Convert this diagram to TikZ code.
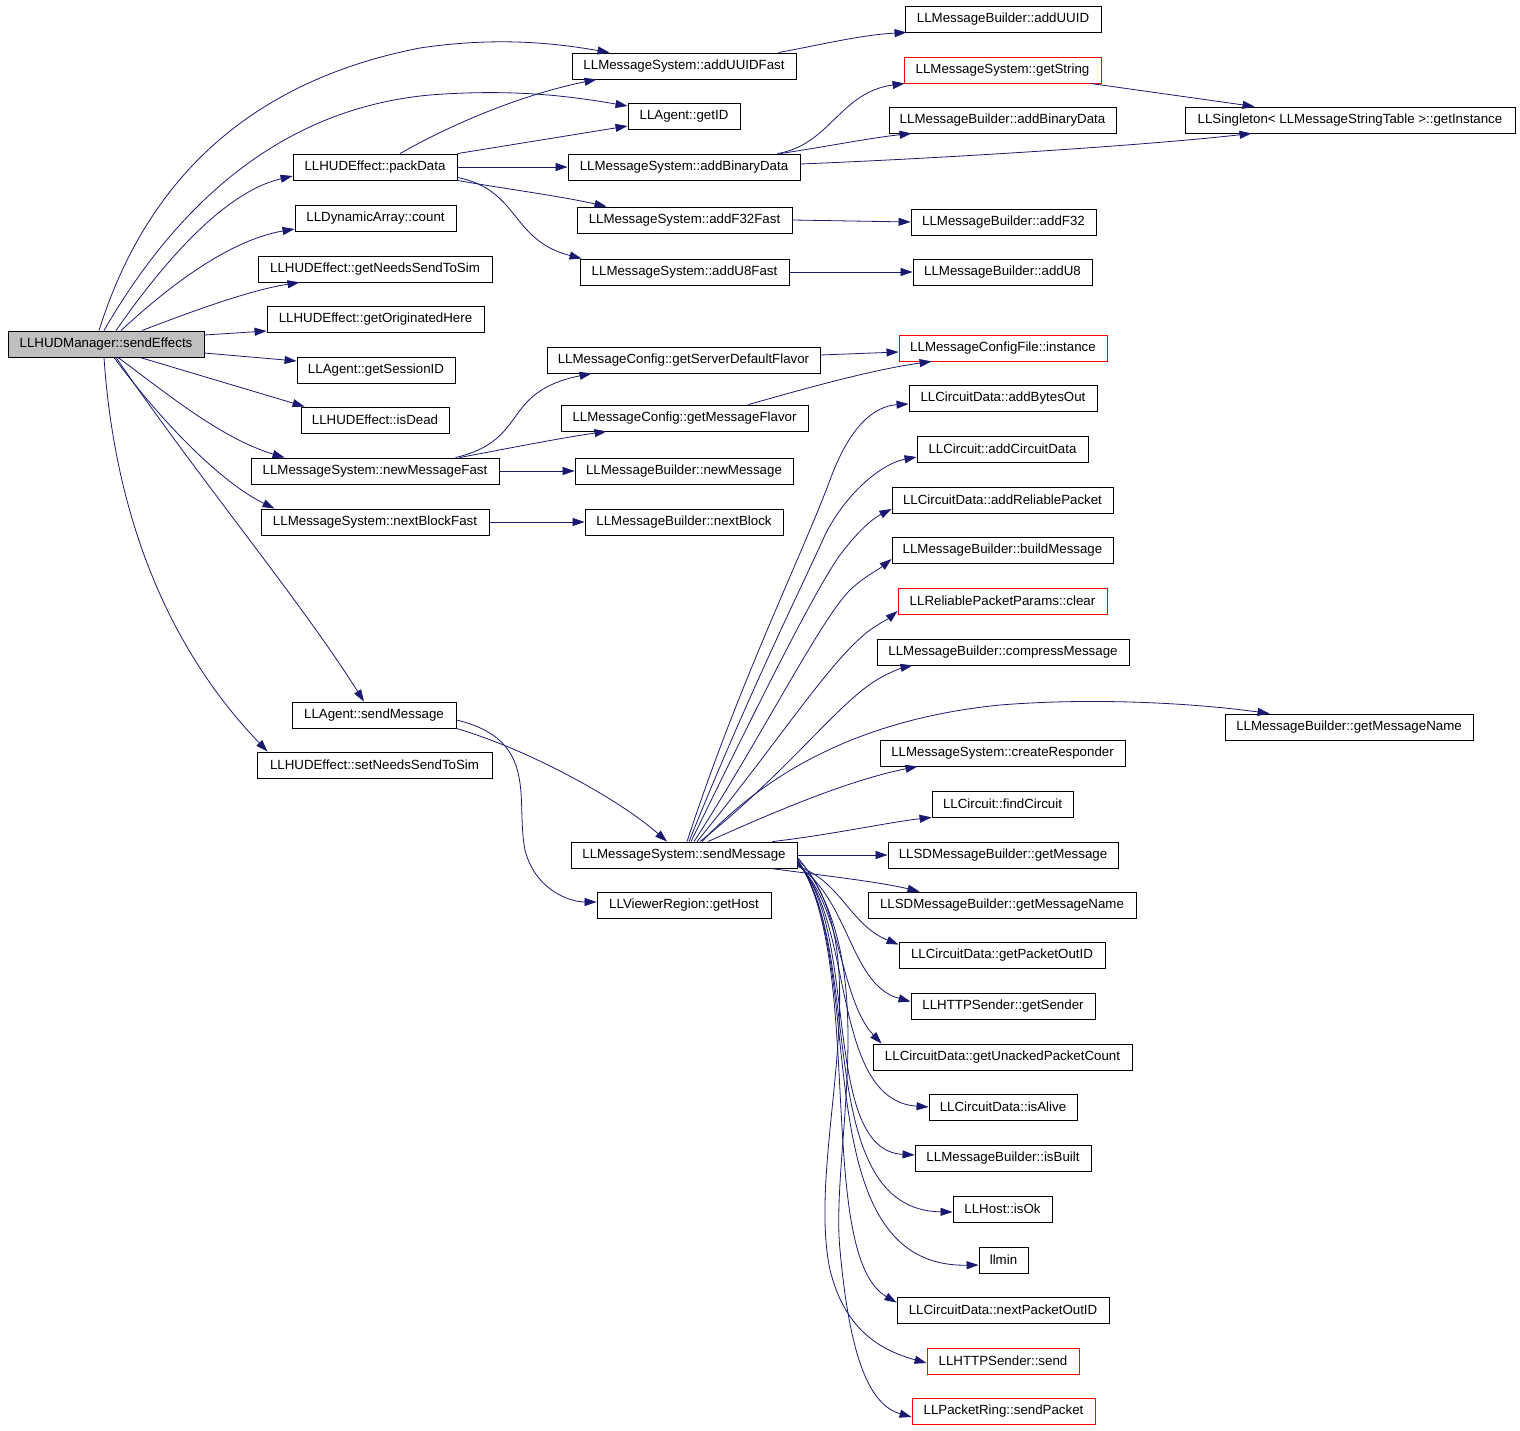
\documentclass[tikz,border=0pt]{standalone}
\usepackage{fontspec}
\setmainfont{Liberation Sans}
\usetikzlibrary{arrows.meta}
\definecolor{edgeblue}{HTML}{191970}
\definecolor{graybox}{HTML}{BFBFBF}
\tikzset{
  box/.style={rectangle,line width=0.9pt,inner sep=0pt,font=\fontsize{13.3}{15}\selectfont,fill=white},
  edge/.style={draw=edgeblue,line width=0.8pt,-{Triangle[length=12pt,width=8pt]}},
}
\newcommand{\mybox}[7]{\node[box,draw=#7,minimum width={(#5)-(#3)},minimum height={(#6)-(#4)}] (#1) at ({((#3)+(#5))/2},{((#4)+(#6))/2}) {#2};}
\begin{document}
\begin{tikzpicture}[x=1pt,y=-1pt]
\useasboundingbox[fill=white] (0,0) rectangle (1520,1431);
% nodes
\node[box,draw=black,fill=graybox,minimum width=196,minimum height=26] (se) at (106,344) {LLHUDManager::sendEffects};
\mybox{aduf}{LLMessageSystem::addUUIDFast}{572}{53}{796}{79}{black}
\mybox{adu}{LLMessageBuilder::addUUID}{905}{6}{1101}{32}{black}
\mybox{gid}{LLAgent::getID}{628}{103}{740}{129}{black}
\mybox{pd}{LLHUDEffect::packData}{293}{154}{457}{180}{black}
\mybox{gs}{LLMessageSystem::getString}{904}{57}{1101}{83}{red}
\mybox{mbabd}{LLMessageBuilder::addBinaryData}{889}{107}{1116}{133}{black}
\mybox{gi}{LLSingleton< LLMessageStringTable >::getInstance}{1185}{107}{1515}{133}{black}
\mybox{msabd}{LLMessageSystem::addBinaryData}{568}{154}{800}{180}{black}
\mybox{cnt}{LLDynamicArray::count}{295}{205}{456}{231}{black}
\mybox{af32}{LLMessageSystem::addF32Fast}{577}{207}{792}{233}{black}
\mybox{af}{LLMessageBuilder::addF32}{911}{209}{1096}{235}{black}
\mybox{gns}{LLHUDEffect::getNeedsSendToSim}{258}{256}{492}{282}{black}
\mybox{au8}{LLMessageSystem::addU8Fast}{580}{259}{789}{285}{black}
\mybox{au}{LLMessageBuilder::addU8}{913}{259}{1092}{285}{black}
\mybox{goh}{LLHUDEffect::getOriginatedHere}{267}{306}{484}{332}{black}
\mybox{gsdf}{LLMessageConfig::getServerDefaultFlavor}{547}{347}{820}{373}{black}
\mybox{mci}{LLMessageConfigFile::instance}{899}{335}{1107}{361}{red}
\mybox{gsi}{LLAgent::getSessionID}{297}{357}{455}{383}{black}
\mybox{gmf}{LLMessageConfig::getMessageFlavor}{561}{405}{808}{431}{black}
\mybox{abo}{LLCircuitData::addBytesOut}{909}{385}{1097}{411}{black}
\mybox{isd}{LLHUDEffect::isDead}{301}{407}{449}{433}{black}
\mybox{nmf}{LLMessageSystem::newMessageFast}{251}{458}{499}{484}{black}
\mybox{nm}{LLMessageBuilder::newMessage}{575}{458}{793}{484}{black}
\mybox{acd}{LLCircuit::addCircuitData}{917}{436}{1088}{462}{black}
\mybox{nbf}{LLMessageSystem::nextBlockFast}{261}{509}{489}{535}{black}
\mybox{nb}{LLMessageBuilder::nextBlock}{585}{509}{783}{535}{black}
\mybox{arp}{LLCircuitData::addReliablePacket}{892}{487}{1113}{513}{black}
\mybox{bm}{LLMessageBuilder::buildMessage}{892}{537}{1113}{563}{black}
\mybox{rpc}{LLReliablePacketParams::clear}{898}{588}{1107}{614}{red}
\mybox{cm}{LLMessageBuilder::compressMessage}{877}{639}{1129}{665}{black}
\mybox{asm}{LLAgent::sendMessage}{292}{702}{456}{728}{black}
\mybox{mbgmn}{LLMessageBuilder::getMessageName}{1225}{714}{1473}{740}{black}
\mybox{cr}{LLMessageSystem::createResponder}{880}{740}{1125}{766}{black}
\mybox{sns}{LLHUDEffect::setNeedsSendToSim}{257}{752}{492}{778}{black}
\mybox{fc}{LLCircuit::findCircuit}{932}{791}{1073}{817}{black}
\mybox{mssm}{LLMessageSystem::sendMessage}{571}{842}{797}{868}{black}
\mybox{sdgm}{LLSDMessageBuilder::getMessage}{888}{842}{1118}{868}{black}
\mybox{sdgmn}{LLSDMessageBuilder::getMessageName}{868}{892}{1136}{918}{black}
\mybox{gh}{LLViewerRegion::getHost}{597}{892}{771}{918}{black}
\mybox{gpo}{LLCircuitData::getPacketOutID}{899}{942}{1105}{968}{black}
\mybox{gsn}{LLHTTPSender::getSender}{911}{993}{1095}{1019}{black}
\mybox{gupc}{LLCircuitData::getUnackedPacketCount}{873}{1044}{1132}{1070}{black}
\mybox{ia}{LLCircuitData::isAlive}{929}{1094}{1077}{1120}{black}
\mybox{ib}{LLMessageBuilder::isBuilt}{915}{1145}{1091}{1171}{black}
\mybox{iok}{LLHost::isOk}{953}{1196}{1052}{1222}{black}
\mybox{llm}{llmin}{979}{1247}{1028}{1273}{black}
\mybox{npo}{LLCircuitData::nextPacketOutID}{897}{1297}{1109}{1323}{black}
\mybox{hs}{LLHTTPSender::send}{927}{1348}{1079}{1374}{red}
\mybox{psp}{LLPacketRing::sendPacket}{912}{1398}{1095}{1424}{red}

% ---------- edges from sendEffects ----------
\draw[edge] ([xshift=-7]se.north) .. controls (140,200) and (230,85) .. (420,48) .. controls (500,36) and (560,44) .. ([xshift=38]aduf.north west);
\draw[edge] ([xshift=-2]se.north) .. controls (165,225) and (265,110) .. (430,95) .. controls (520,88) and (580,98) .. ([yshift=10]gid.west);
\draw[edge] ([xshift=10]se.north) .. controls (165,260) and (225,192) .. ([yshift=-9]pd.west);
\draw[edge] ([xshift=15]se.north) .. controls (170,285) and (230,240) .. ([yshift=-11]cnt.west);
\draw[edge] ([xshift=36]se.north) .. controls (190,312) and (250,290) .. ([xshift=42]gns.south west);
\draw[edge] ([yshift=9]se.east) -- ([yshift=-12]goh.west);
\draw[edge] ([yshift=-9]se.east) -- ([yshift=9]gsi.west);
\draw[edge] ([xshift=34]se.south) -- ([xshift=4]isd.north west);
\draw[edge] ([xshift=12]se.south) .. controls (165,392) and (220,438) .. ([xshift=34]nmf.north west);
\draw[edge] ([xshift=8]se.south) .. controls (160,420) and (220,482) .. ([xshift=14]nbf.north west);
\draw[edge] ([xshift=10]se.south) .. controls (200,480) and (300,600) .. ([xshift=-10]asm.north);
\draw[edge] ([xshift=-2]se.south) .. controls (115,520) and (170,650) .. ([xshift=11]sns.north west);

% ---------- packData ----------
\draw[edge] ([xshift=25]pd.north) .. controls (450,125) and (520,95) .. ([xshift=25]aduf.south west);
\draw[edge] (pd.north east) -- ([yshift=-10]gid.west);
\draw[edge] (pd.east) -- (msabd.west);
\draw[edge] (pd.south east) .. controls (500,188) and (560,196) .. ([xshift=30]af32.north west);
\draw[edge] ([yshift=3]pd.south east) .. controls (520,190) and (510,240) .. ([xshift=2]au8.north west);

% ---------- second level ----------
\draw[edge] ([xshift=-18]aduf.north east) .. controls (820,45) and (860,35) .. ([xshift=2]adu.south west);
\draw[edge] ([xshift=-23]msabd.north east) .. controls (830,145) and (840,92) .. ([xshift=1]gs.south west);
\draw[edge] ([xshift=-20]msabd.north east) .. controls (830,146) and (870,138) .. ([xshift=23]mbabd.south west);
\draw[edge] ([yshift=3]msabd.east) .. controls (950,158) and (1150,145) .. ([xshift=67]gi.south west);
\draw[edge] ([xshift=-11]gs.south east) -- ([xshift=70]gi.north west);
\draw[edge] (af32.east) -- (af.west);
\draw[edge] (au8.east) -- (au.west);

\draw[edge] ([xshift=-44]nmf.north east) .. controls (530,440) and (500,392) .. ([xshift=45]gsdf.south west);
\draw[edge] ([xshift=-40]nmf.north east) .. controls (500,450) and (560,438) .. ([xshift=46]gmf.south west);
\draw[edge] (nmf.east) -- (nm.west);
\draw[edge] ([yshift=5]gsdf.east) -- ([yshift=-4]mci.west);
\draw[edge] ([xshift=-60]gmf.north east) .. controls (800,390) and (870,370) .. ([xshift=33]mci.south west);
\draw[edge] (nbf.east) -- (nb.west);

% ---------- LLAgent::sendMessage ----------
\draw[edge] (asm.south east) .. controls (530,750) and (620,800) .. ([xshift=-17]mssm.north);
\draw[edge] ([yshift=-5]asm.east) .. controls (540,740) and (515,800) .. (525,850) .. controls (535,890) and (570,902) .. ([yshift=3]gh.west);

% ---------- LLMessageSystem::sendMessage fan (upper) ----------
\draw[edge] ([xshift=3]mssm.north) .. controls (740,680) and (800,560) .. (830,480) .. controls (850,425) and (875,406) .. ([yshift=-6]abo.west);
\draw[edge] ([xshift=5]mssm.north) .. controls (750,690) and (805,580) .. (825,535) .. controls (845,495) and (880,464) .. ([yshift=-8]acd.west);
\draw[edge] ([xshift=7]mssm.north) .. controls (760,700) and (815,590) .. (840,555) .. controls (855,535) and (870,520) .. ([yshift=-9]arp.west);
\draw[edge] ([xshift=10]mssm.north) .. controls (760,740) and (820,620) .. (850,590) .. controls (865,576) and (878,570) .. ([yshift=-9]bm.west);
\draw[edge] ([xshift=13]mssm.north) .. controls (780,740) and (830,660) .. (870,630) .. controls (880,623) and (888,619) .. ([yshift=-10]rpc.west);
\draw[edge] ([xshift=16]mssm.north) .. controls (790,770) and (840,700) .. (880,678) .. controls (892,671) and (905,667) .. ([xshift=36]cm.south west);
\draw[edge] ([xshift=18]mssm.north) .. controls (760,780) and (850,720) .. (1000,705) .. controls (1100,697) and (1200,704) .. ([xshift=45]mbgmn.north west);
\draw[edge] ([xshift=24]mssm.north) .. controls (800,800) and (860,778) .. ([xshift=38]cr.south west);
\draw[edge] ([xshift=-25]mssm.north east) .. controls (830,835) and (890,822) .. (fc.south west);

% ---------- fan (right / lower) ----------
\draw[edge] (mssm.east) -- (sdgm.west);
\draw[edge] ([xshift=-27]mssm.south east) .. controls (820,875) and (880,882) .. ([xshift=52]sdgmn.north west);
\draw[edge] ([yshift=2]mssm.south east) .. controls (840,880) and (850,925) .. ([yshift=-3]gpo.north west);
\draw[edge] ([yshift=3]mssm.south east) .. controls (850,900) and (850,985) .. ([yshift=-9]gsn.north west);
\draw[edge] ([yshift=4]mssm.south east) .. controls (840,900) and (840,1000) .. ([xshift=9]gupc.north west);
\draw[edge] ([yshift=5]mssm.south east) .. controls (855,920) and (830,1100) .. (ia.west);
\draw[edge] ([yshift=6]mssm.south east) .. controls (860,930) and (820,1150) .. ([yshift=3]ib.west);
\draw[edge] ([yshift=7]mssm.south east) .. controls (865,950) and (810,1210) .. ([yshift=-3]iok.west);
\draw[edge] ([yshift=8]mssm.south east) .. controls (870,960) and (800,1268) .. ([yshift=-5]llm.west);
\draw[edge] ([yshift=9]mssm.south east) .. controls (865,960) and (815,1255) .. ([yshift=-6]npo.north west);
\draw[edge] ([yshift=10]mssm.south east) .. controls (885,950) and (805,1150) .. (830,1270) .. controls (845,1330) and (880,1350) .. ([yshift=-2]hs.west);
\draw[edge] ([yshift=11]mssm.south east) .. controls (885,960) and (830,1150) .. (840,1250) .. controls (850,1360) and (870,1405) .. ([yshift=-6]psp.west);
\end{tikzpicture}
\end{document}
